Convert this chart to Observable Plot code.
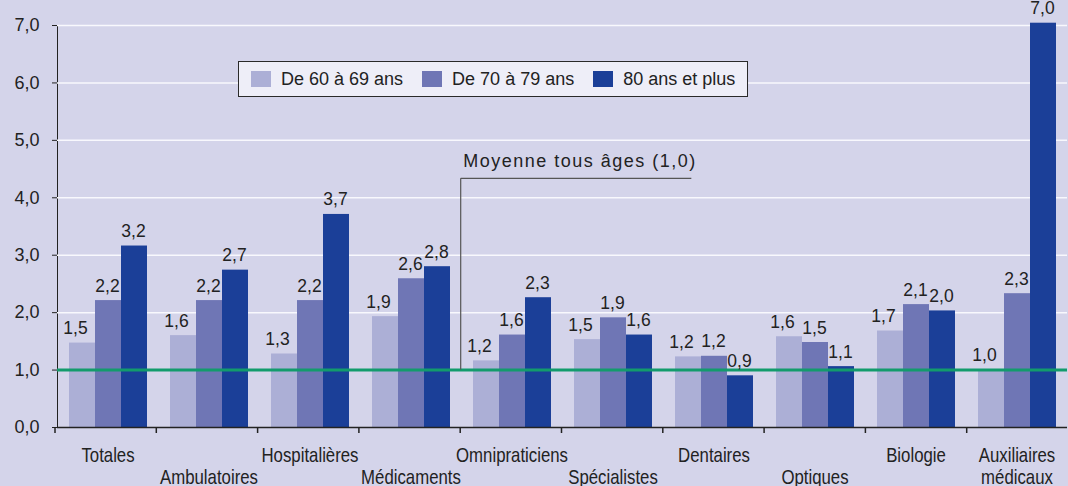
<!DOCTYPE html>
<html><head><meta charset="utf-8">
<script src="https://cdn.jsdelivr.net/npm/d3@7"></script>
<script src="https://cdn.jsdelivr.net/npm/@observablehq/plot@0.6"></script>
<style>
html,body{margin:0;padding:0;background:#d4d4ea;}
#wrap{position:relative;width:1068px;height:486px;overflow:hidden;}
#legend{position:absolute;left:238px;top:61px;width:510px;height:36px;box-sizing:border-box;border:1.5px solid #2a2a2a;background:#eeeef8;display:flex;align-items:center;padding-left:12px;font-family:"Liberation Sans",Arial,sans-serif;font-size:18px;color:#222;}
#legend .item{display:flex;align-items:center;margin-right:19px;white-space:nowrap;}
#legend .sw{width:20px;height:16px;margin-right:10px;}
</style></head><body><div id="wrap"><div id="legend"></div></div>
<script>
const categories = ["Totales","Ambulatoires","Hospitalières","Médicaments","Omnipraticiens","Spécialistes","Dentaires","Optiques","Biologie","Auxiliaires médicaux"];
const series = ["De 60 à 69 ans","De 70 à 79 ans","80 ans et plus"];
const v60 = [1.47,1.60,1.28,1.93,1.16,1.53,1.23,1.58,1.68,1.00];
const v70 = [2.21,2.21,2.21,2.59,1.61,1.91,1.24,1.48,2.14,2.33];
const v80 = [3.16,2.74,3.71,2.80,2.26,1.61,0.90,1.06,2.03,7.04];
const colors = ["#acafd6","#6f76b5","#1b3f98"];
const yTicks = [0,1,2,3,4,5,6,7];
const meanValue = 1.0;
const meanLabel = "Moyenne tous âges (1,0)";
const meanAnchorCategory = "Omnipraticiens";
const meanLabelLevel = 4.33;

const fmt = v => v.toFixed(1).replace(".", ",");
const seriesValues = [v60, v70, v80];
const rows = categories.flatMap((c, i) => series.map((s, j) => ({category: c, series: s, value: seriesValues[j][i], idx: i})));
const catLabel = d => {
  const name = d.category.replace(" ", "\n");
  return (d.idx % 2 === 1 && !name.includes("\n")) ? "\n" + name : name;
};

const chart = Plot.plot({
  width: 1068, height: 486,
  marginLeft: 55, marginRight: 0, marginTop: 25, marginBottom: 59,
  style: {background: "transparent", fontFamily: '"Liberation Sans", Arial, sans-serif', fontSize: "18px", color: "#222", overflow: "visible"},
  facet: {data: rows, x: "category", marginRight: 0},
  fx: {domain: categories, padding: 0, axis: null, label: null},
  x: {domain: series, paddingInner: 0, paddingOuter: 0.42, axis: null, label: null},
  y: {domain: [0, 7], ticks: yTicks, tickFormat: fmt, tickSize: 5, tickPadding: 13, line: true, label: null},
  color: {domain: series, range: colors},
  marks: [
    Plot.ruleY(yTicks.slice(1), {stroke: "#f8f8fd", strokeWidth: 1.5}),
    Plot.barY(rows, {x: "series", y: "value", fill: "series"}),
    Plot.ruleY([meanValue], {stroke: "#129b6c", strokeWidth: 3}),
    Plot.ruleY([0], {stroke: "#222", strokeWidth: 1.5}),
    Plot.text(rows, {filter: d => d.series === series[0], x: "series", y: "value", text: d => fmt(d.value), lineAnchor: "bottom", dy: -9, dx: -7, fontSize: 17.5, fill: "#222"}),
    Plot.text(rows, {filter: d => d.series !== series[0], x: "series", y: "value", text: d => fmt(d.value), lineAnchor: "bottom", dy: -9, dx: -1, fontSize: 17.5, fill: "#222"}),
    Plot.text(rows, {filter: d => d.series === series[0], text: catLabel, frameAnchor: "bottom", lineAnchor: "top", dy: 19, lineHeight: 1.1, fontSize: 20, fill: "#222"})
  ]
});

const wrap = document.getElementById("wrap");
wrap.insertBefore(chart, wrap.firstChild);

// condense the category labels horizontally around their centre (no narrow font installed)
const catKeys = new Set(categories.map(c => c.replace(/\s/g, "")));
d3.select(chart).selectAll("text").filter(function() {
  return catKeys.has((this.textContent || "").replace(/\s/g, ""));
}).each(function() {
  const b = this.getBBox();
  const cx = b.x + b.width / 2;
  const tr = this.getAttribute("transform") || "";
  this.setAttribute("transform", `${tr} translate(${cx},0) scale(0.84,1) translate(${-cx},0)`);
});

// legend
const legend = d3.select("#legend");
series.forEach((s, j) => {
  const item = legend.append("div").attr("class", "item");
  item.append("div").attr("class", "sw").style("background", colors[j]);
  item.append("span").text(s);
});

// category boundary ticks and annotation, from Plot's own scales
const fxS = chart.scale("fx"), yS = chart.scale("y");
const fx = d3.scaleBand(fxS.domain, fxS.range).paddingInner(fxS.paddingInner || 0).paddingOuter(fxS.paddingOuter || 0).align(fxS.align ?? 0.5);
const y = d3.scaleLinear(yS.domain, yS.range);
const g = d3.select(chart).append("g");
g.selectAll("line.tk").data(categories).join("line")
  .attr("x1", c => fx(c)).attr("x2", c => fx(c))
  .attr("y1", y(0)).attr("y2", y(0) + 6)
  .attr("stroke", "#222").attr("stroke-width", 1.5);
const ax = fx(meanAnchorCategory) + 0.5;
g.append("line").attr("x1", ax).attr("x2", ax).attr("y1", y(meanValue)).attr("y2", y(meanLabelLevel))
  .attr("stroke", "#555").attr("stroke-width", 1.2);
const t = g.append("text").attr("x", ax + 2.5).attr("y", y(meanLabelLevel) - 11)
  .attr("text-anchor", "start").attr("font-size", 18).attr("letter-spacing", "1.5px").attr("fill", "#222").text(meanLabel);
const len = t.node().getComputedTextLength();
g.append("line").attr("x1", ax).attr("x2", ax + len - 3).attr("y1", y(meanLabelLevel)).attr("y2", y(meanLabelLevel))
  .attr("stroke", "#555").attr("stroke-width", 1.2);
</script>
</body></html>
